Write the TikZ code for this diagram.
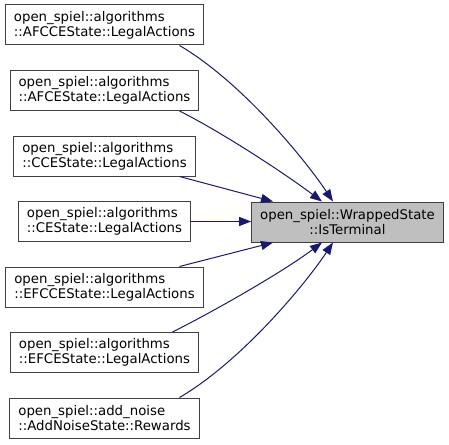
\documentclass[tikz,border=0pt]{standalone}
\usepackage{fontspec}
\setmainfont{DejaVu Sans}
\usepackage{xcolor}
\usetikzlibrary{arrows.meta,positioning}
\definecolor{edgeblue}{HTML}{191970}
\definecolor{boxline}{HTML}{404040}
\definecolor{termfill}{HTML}{BFBFBF}

\begin{document}
\begin{tikzpicture}[x=1pt,y=-1pt,>={Triangle[length=12pt,width=9pt]},
    func/.style={draw=boxline,line width=1pt,align=left,inner xsep=8.5pt,
                 inner ysep=0pt,minimum height=40pt,
                 font=\fontsize{13.3}{15}\selectfont},
    cur/.style={func,fill=termfill,align=center},
    call/.style={->,edgeblue,line width=1pt}]
  \useasboundingbox (0,0) rectangle (449,444);

  \node[func] (afcce) at (104.5,25) {open\_spiel::algorithms\\::AFCCEState::LegalActions};
  \node[func,below=24.5pt of afcce] (afce) {open\_spiel::algorithms\\::AFCEState::LegalActions};
  \node[func,below=24.5pt of afce] (cce) {open\_spiel::algorithms\\::CCEState::LegalActions};
  \node[func,below=24.5pt of cce] (ce) {open\_spiel::algorithms\\::CEState::LegalActions};
  \node[func,below=24.5pt of ce] (efcce) {open\_spiel::algorithms\\::EFCCEState::LegalActions};
  \node[func,below=24.5pt of efcce] (efce) {open\_spiel::algorithms\\::EFCEState::LegalActions};
  \node[func,below=24.5pt of efce] (noise) {open\_spiel::add\_noise\\::AddNoiseState::Rewards};

  \node[cur] (term) at (347.5,222) {open\_spiel::WrappedState\\::IsTerminal};

  \draw[call] ([xshift=75pt]afcce.south) .. controls +(60,35) and +(-30,-45) .. ([xshift=-14.5pt]term.north);
  \draw[call] ([xshift=75pt]afce.south) .. controls +(40,20) and +(-40,-30) .. ([xshift=-25.5pt]term.north);
  \draw[call] ([xshift=75pt]cce.south) -- ([xshift=-74.5pt]term.north);
  \draw[call] (ce.east) -- (ce.east -| term.west);
  \draw[call] ([xshift=75pt]efcce.north) -- ([xshift=-74.5pt]term.south);
  \draw[call] ([xshift=68pt]efce.north) .. controls +(40,-20) and +(-40,30) .. ([xshift=-25.5pt]term.south);
  \draw[call] ([xshift=75pt]noise.north) .. controls +(60,-35) and +(-30,45) .. ([xshift=-14.5pt]term.south);
\end{tikzpicture}
\end{document}
